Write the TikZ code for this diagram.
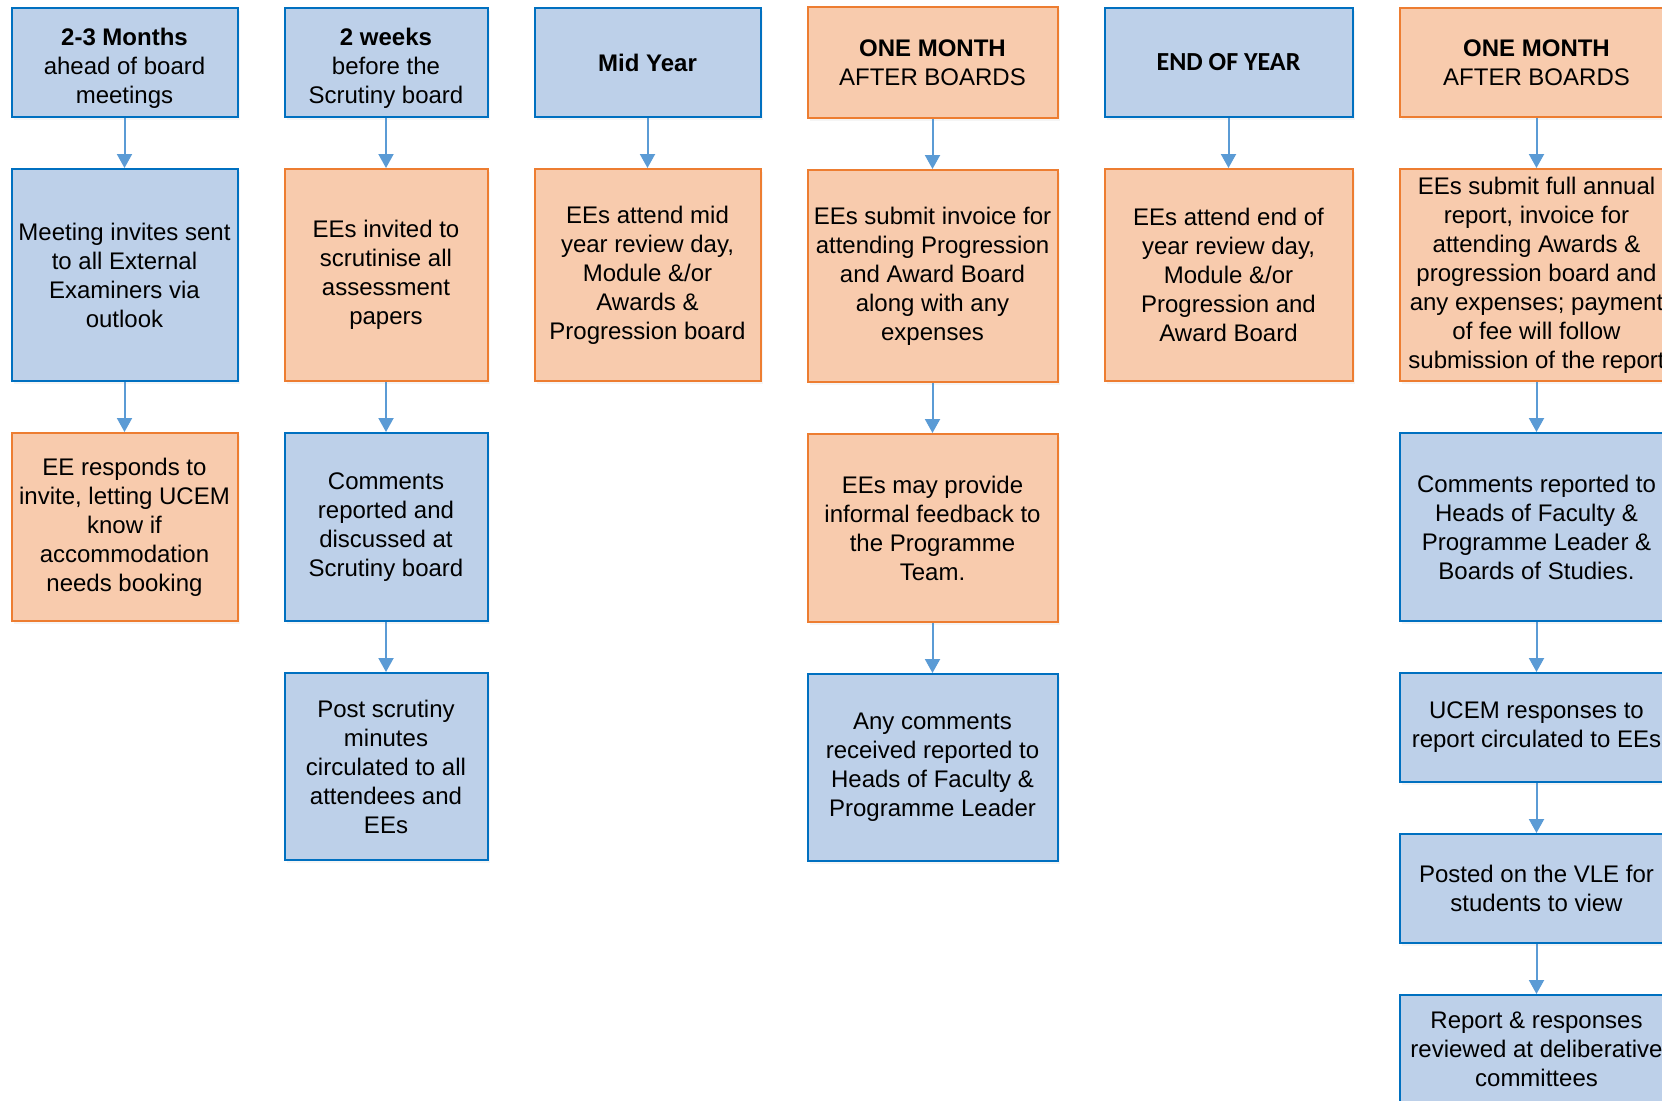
\documentclass[tikz,border=0pt]{standalone}
\usepackage{fontspec}
\setmainfont{Liberation Sans}
\newfontfamily\calfont{Carlito}
\usepackage{xcolor}
\usetikzlibrary{arrows.meta,positioning,shadows}

\definecolor{bluefill}{HTML}{BDD0E9}
\definecolor{blueline}{HTML}{0070C0}
\definecolor{orafill}{HTML}{F8CBAD}
\definecolor{oraline}{HTML}{ED7D31}
\definecolor{arrblue}{HTML}{5B9BD5}

\begin{document}
\begin{tikzpicture}[node distance=25pt, >=Latex]
\tikzstyle{box}=[draw, line width=1pt, inner sep=3pt, align=center, font=\fontsize{12}{14.5}\selectfont,
  drop shadow={shadow xshift=1pt, shadow yshift=-1.5pt, opacity=0.08}]
\tikzstyle{blu}=[box, draw=blueline, fill=bluefill]
\tikzstyle{ora}=[box, draw=oraline, fill=orafill]
\tikzstyle{hd}=[minimum height=54.5pt]
\tikzstyle{arr}=[-{Triangle[width=7.5pt,length=7pt]}, line width=1pt, arrblue]

\useasboundingbox (0,0) rectangle (831pt,-550pt);

% headers
\node[blu, hd, minimum width=113pt, anchor=north west] (h1) at (5.25pt,-3.5pt) {\rule{0pt}{14pt}\textbf{2-3 Months}\\ahead of board\\meetings};
\node[blu, hd, minimum width=101.5pt, right=22.5pt of h1] (h2) {\rule{0pt}{14pt}\textbf{2 weeks}\\before the\\Scrutiny board};
\node[blu, hd, minimum width=113pt, right=22.5pt of h2] (h3) {\textbf{Mid Year}};
\node[ora, hd, minimum width=125pt, minimum height=55.5pt, right=22.5pt of h3] (h4) {\textbf{ONE MONTH}\\AFTER BOARDS};
\node[blu, hd, minimum width=124pt, right=22.5pt of h4] (h5) {\calfont\bfseries\fontsize{13}{15}\selectfont END OF YEAR};
\node[ora, hd, minimum width=137pt, right=22.5pt of h5] (h6) {\textbf{ONE MONTH}\\AFTER BOARDS};

% column 1
\node[blu, minimum width=113pt, minimum height=106pt, below=of h1] (a1) {Meeting invites sent\\to all External\\Examiners via\\outlook};
\node[ora, minimum width=113pt, minimum height=94pt, below=of a1] (b1) {EE responds to\\invite, letting UCEM\\know if\\accommodation\\needs booking};
\draw[arr] (h1) -- (a1);
\draw[arr] (a1) -- (b1);

% column 2
\node[ora, minimum width=101.5pt, minimum height=106pt, below=of h2] (a2) {EEs invited to\\scrutinise all\\assessment\\papers};
\node[blu, minimum width=101.5pt, minimum height=94pt, below=of a2] (b2) {Comments\\reported and\\discussed at\\Scrutiny board};
\node[blu, minimum width=101.5pt, minimum height=93.5pt, below=of b2] (c2) {Post scrutiny\\minutes\\circulated to all\\attendees and\\EEs};
\draw[arr] (h2) -- (a2);
\draw[arr] (a2) -- (b2);
\draw[arr] (b2) -- (c2);

% column 3
\node[ora, minimum width=113pt, minimum height=106pt, below=of h3] (a3) {EEs attend mid\\year review day,\\Module \&/or\\Awards \&\\Progression board};
\draw[arr] (h3) -- (a3);

% column 4
\node[ora, minimum width=125pt, minimum height=106pt, below=of h4] (a4) {EEs submit invoice for\\attending Progression\\and Award Board\\along with any\\expenses};
\node[ora, minimum width=125pt, minimum height=94pt, below=of a4] (b4) {EEs may provide\\informal feedback to\\the Programme\\Team.};
\node[blu, minimum width=125pt, minimum height=93.5pt, below=of b4] (c4) {Any comments\\received reported to\\Heads of Faculty \&\\Programme Leader};
\draw[arr] (h4) -- (a4);
\draw[arr] (a4) -- (b4);
\draw[arr] (b4) -- (c4);

% column 5
\node[ora, minimum width=124pt, minimum height=106pt, below=of h5] (a5) {EEs attend end of\\year review day,\\Module \&/or\\Progression and\\Award Board};
\draw[arr] (h5) -- (a5);

% column 6
\node[ora, minimum width=137pt, minimum height=106pt, below=of h6] (a6) {EEs submit full annual\\report, invoice for\\attending Awards \&\\progression board and\\any expenses; payment\\of fee will follow\\submission of the report};
\node[blu, minimum width=137pt, minimum height=94pt, below=of a6] (b6) {Comments reported to\\Heads of Faculty \&\\Programme Leader \&\\Boards of Studies.};
\node[blu, minimum width=137pt, minimum height=54.5pt, below=of b6] (c6) {UCEM responses to\\report circulated to EEs};
\node[blu, minimum width=137pt, minimum height=54.5pt, below=of c6] (d6) {Posted on the VLE for\\students to view};
\node[blu, minimum width=137pt, minimum height=54.5pt, below=of d6] (e6) {Report \& responses\\reviewed at deliberative\\committees};
\draw[arr] (h6) -- (a6);
\draw[arr] (a6) -- (b6);
\draw[arr] (b6) -- (c6);
\draw[arr] (c6) -- (d6);
\draw[arr] (d6) -- (e6);

\end{tikzpicture}
\end{document}
